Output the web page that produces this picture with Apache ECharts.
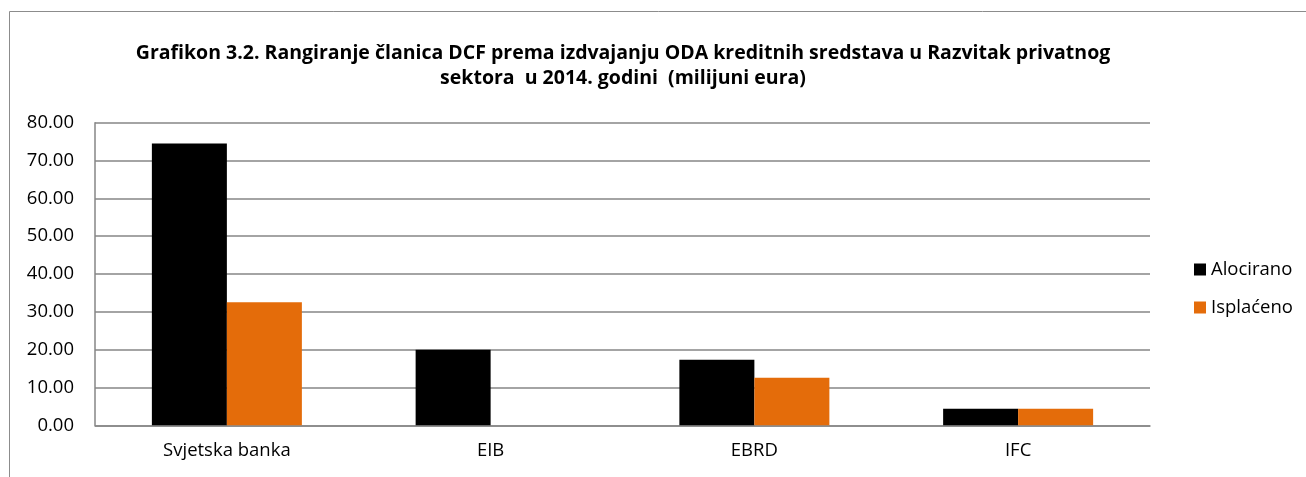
<!DOCTYPE html>
<html>
<head>
<meta charset="utf-8">
<script src="https://cdn.jsdelivr.net/npm/echarts@6/dist/echarts.min.js"></script>
<style>html,body{margin:0;padding:0;background:#fff}#c{width:1306px;height:477px}</style>
</head>
<body>
<div id="c"></div>
<script>
const categories = ['Svjetska banka', 'EIB', 'EBRD', 'IFC'];
const alocirano = [74.5, 20.0, 17.3, 4.4];
const isplaceno = [32.5, 0, 12.6, 4.4];
const seriesNames = ['Alocirano', 'Isplaćeno'];
const titleLines = ['Grafikon 3.2. Rangiranje članica DCF prema izdvajanju ODA kreditnih sredstava u Razvitak privatnog', 'sektora  u 2014. godini  (milijuni eura)'];

const FONT = '"Open Sans", sans-serif';
const chart = echarts.init(document.getElementById('c'), null, {renderer: 'canvas'});
chart.setOption({
  backgroundColor: '#fff',
  animation: false,
  graphic: [{
    type: 'rect', shape: {x: 9.5, y: 11.5, width: 1400, height: 600},
    style: {fill: 'none', stroke: '#8c8c8c', lineWidth: 1}, silent: true, z: -1
  }],
  title: {
    text: titleLines.join('\n'),
    left: 618, top: 36, textAlign: 'center',
    textStyle: {fontFamily: FONT, fontWeight: 'bold', fontSize: 19.5, lineHeight: 25, color: '#000'}
  },
  legend: {
    orient: 'vertical', left: 1189, top: 255, itemGap: 19,
    itemWidth: 12, itemHeight: 12, icon: 'rect',
    textStyle: {fontFamily: FONT, fontSize: 18.5, color: '#000'},
    data: seriesNames
  },
  grid: {left: 95, right: 156, top: 122.7, bottom: 51.7, containLabel: false},
  xAxis: {
    type: 'category', data: categories,
    axisLine: {lineStyle: {color: '#868686', width: 1.5}},
    axisTick: {show: false},
    axisLabel: {fontFamily: FONT, fontSize: 18.5, color: '#000', margin: 16}
  },
  yAxis: {
    type: 'value', min: 0, max: 80, interval: 10,
    axisLine: {show: true, lineStyle: {color: '#868686', width: 1.5}},
    axisTick: {show: false},
    splitLine: {lineStyle: {color: '#868686', width: 1.5}},
    axisLabel: {fontFamily: FONT, fontSize: 18.5, color: '#000', margin: 21, formatter: v => v.toFixed(2)}
  },
  series: [
    {name: seriesNames[0], type: 'bar', data: alocirano, barWidth: 75, barGap: '0%', itemStyle: {color: '#000000'}},
    {name: seriesNames[1], type: 'bar', data: isplaceno, barWidth: 75, barGap: '0%', itemStyle: {color: '#e46c0a'}}
  ]
});
</script>
</body>
</html>
